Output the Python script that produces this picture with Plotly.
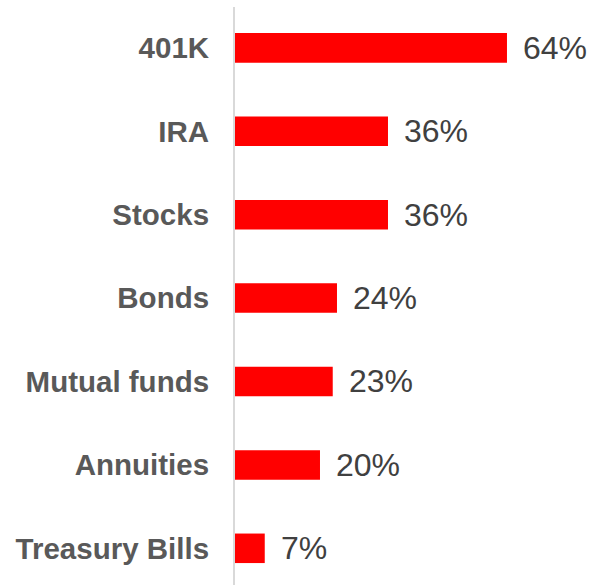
import plotly.graph_objects as go

# Share of respondents holding each type of investment
categories = ["401K", "IRA", "Stocks", "Bonds", "Mutual funds", "Annuities", "Treasury Bills"]
values = [64, 36, 36, 24, 23, 20, 7]
value_labels = [f"{v}%" for v in values]

fig = go.Figure(
    go.Bar(
        x=values,
        y=categories,
        orientation="h",
        marker=dict(color="#ff0000", line=dict(width=0)),
        hoverinfo="skip",
    )
)

# Percent labels just past the end of each bar
for cat, v, lab in zip(categories, values, value_labels):
    fig.add_annotation(
        x=v, y=cat, text=lab, showarrow=False,
        xanchor="left", yanchor="middle", xshift=14,
        font=dict(family="Liberation Sans, Arial, sans-serif", size=32, color="#404040"),
    )

fig.update_layout(
    width=589, height=585,
    margin=dict(l=235, r=0, t=7, b=0),
    paper_bgcolor="white", plot_bgcolor="white",
    bargap=0.646,
    showlegend=False,
    xaxis=dict(range=[0, 83.3], visible=False, fixedrange=True),
    yaxis=dict(
        range=[6.44, -0.49],
        showline=True, linecolor="#d9d9d9", linewidth=2,
        showgrid=False, zeroline=False, ticks="",
        ticklabelstandoff=18,
        tickfont=dict(family="Liberation Sans, Arial, sans-serif", size=29.5, color="#595959", weight="bold"),
    ),
)

fig.write_html("out.html")
